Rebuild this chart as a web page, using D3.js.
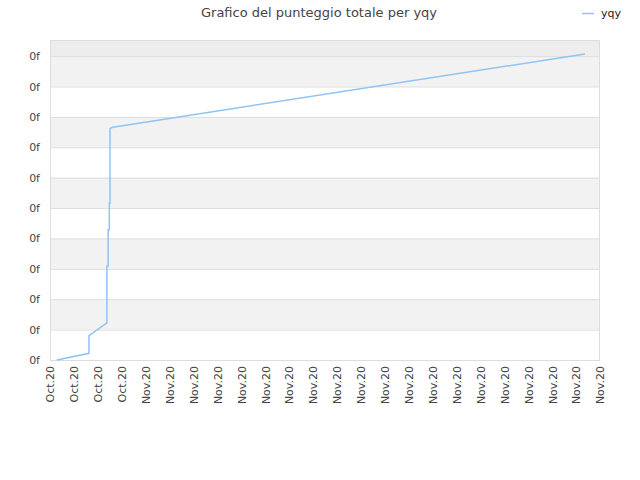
<!DOCTYPE html>
<html><head><meta charset="utf-8">
<script src="https://cdn.jsdelivr.net/npm/d3@7"></script>
<style>body{margin:0;background:#fff}</style>
</head><body><svg id="c" width="640" height="480"></svg>
<script>
// Tick labels on the x axis (one per day)
const xTickLabels = ["Oct.20","Oct.20","Oct.20","Oct.20",
  "Nov.20","Nov.20","Nov.20","Nov.20","Nov.20","Nov.20","Nov.20","Nov.20","Nov.20","Nov.20",
  "Nov.20","Nov.20","Nov.20","Nov.20","Nov.20","Nov.20","Nov.20","Nov.20","Nov.20","Nov.20"];
const yTickValues = [0,1,2,3,4,5,6,7,8,9,10];
const yTickLabels = ["0f","0f","0f","0f","0f","0f","0f","0f","0f","0f","0f"];
// Series (x in days from the first tick, y in score units)
const seriesName = "yqy";
const xValues = [0.29, 1.63, 1.63, 2.38, 2.38, 2.43, 2.43, 2.48, 2.48, 2.51, 2.51, 2.63, 22.37];
const yValues = [0.0, 0.22, 0.8, 1.22, 3.09, 3.09, 4.28, 4.28, 5.16, 5.16, 7.62, 7.66, 10.07];

const svg = d3.select("#c");
const m = {l:50, r:600, t:40, b:360};
const x = d3.scaleLinear().domain([0, xTickLabels.length-1]).range([m.l, m.r]);
const y = d3.scaleLinear().domain([0, 10.53]).range([m.b, m.t]);

// bands
svg.append("rect").attr("x",m.l).attr("y",m.t).attr("width",m.r-m.l).attr("height",y(10)-m.t).attr("fill","#ededed");
yTickValues.slice(0,-1).forEach((v,i)=>{
  svg.append("rect").attr("x",m.l).attr("y",y(v+1)).attr("width",m.r-m.l).attr("height",y(v)-y(v+1))
    .attr("fill", (9-i)%2===0 ? "#f2f2f2" : "#ffffff");
});
// grid lines
svg.append("g").selectAll("line").data(yTickValues).join("line")
  .attr("x1",m.l).attr("x2",m.r).attr("y1",d=>y(d)+0.5).attr("y2",d=>y(d)+0.5)
  .attr("stroke","#dddddd").attr("stroke-width",1);
// border
svg.append("rect").attr("x",m.l+0.5).attr("y",m.t+0.5).attr("width",m.r-m.l-1).attr("height",m.b-m.t)
  .attr("fill","none").attr("stroke","#dddddd");

// y axis labels
const yAxis = d3.axisLeft(y).tickValues(yTickValues).tickSize(0).tickPadding(0)
  .tickFormat((d,i)=>yTickLabels[i]);
const gy = svg.append("g").attr("transform",`translate(${m.l-10},0)`).call(yAxis);
gy.select(".domain").remove();
gy.selectAll("text").attr("font-family","DejaVu Sans").attr("font-size",11).attr("fill","#444");

// x axis labels
const xAxis = d3.axisBottom(x).tickValues(d3.range(xTickLabels.length)).tickSize(0).tickPadding(0)
  .tickFormat((d,i)=>xTickLabels[i]);
const gx = svg.append("g").attr("transform",`translate(0,${m.b})`).call(xAxis);
gx.select(".domain").remove();
gx.selectAll("text").attr("font-family","DejaVu Sans").attr("font-size",11).attr("fill","#444")
  .attr("text-anchor","end").attr("dy","0.35em").attr("dx",0)
  .attr("transform","translate(0,6) rotate(-90)").attr("x",0).attr("y",0);

// line
const pts = xValues.map((v,i)=>[v,yValues[i]]);
svg.append("path").datum(pts)
  .attr("d", d3.line().x(d=>x(d[0])).y(d=>y(d[1])))
  .attr("fill","none").attr("stroke","#90c3f5").attr("stroke-width",1.5);

// title
svg.append("text").attr("x",319).attr("y",17).attr("text-anchor","middle")
  .attr("font-family","DejaVu Sans").attr("font-size",13).attr("fill","#444")
  .text("Grafico del punteggio totale per yqy");
// legend
svg.append("line").attr("x1",582).attr("x2",594).attr("y1",13.5).attr("y2",13.5)
  .attr("stroke","#90c3f5").attr("stroke-width",1.5);
svg.append("text").attr("x",601).attr("y",17).attr("font-family","DejaVu Sans").attr("font-size",11)
  .attr("fill","#222").text(seriesName);
</script></body></html>
